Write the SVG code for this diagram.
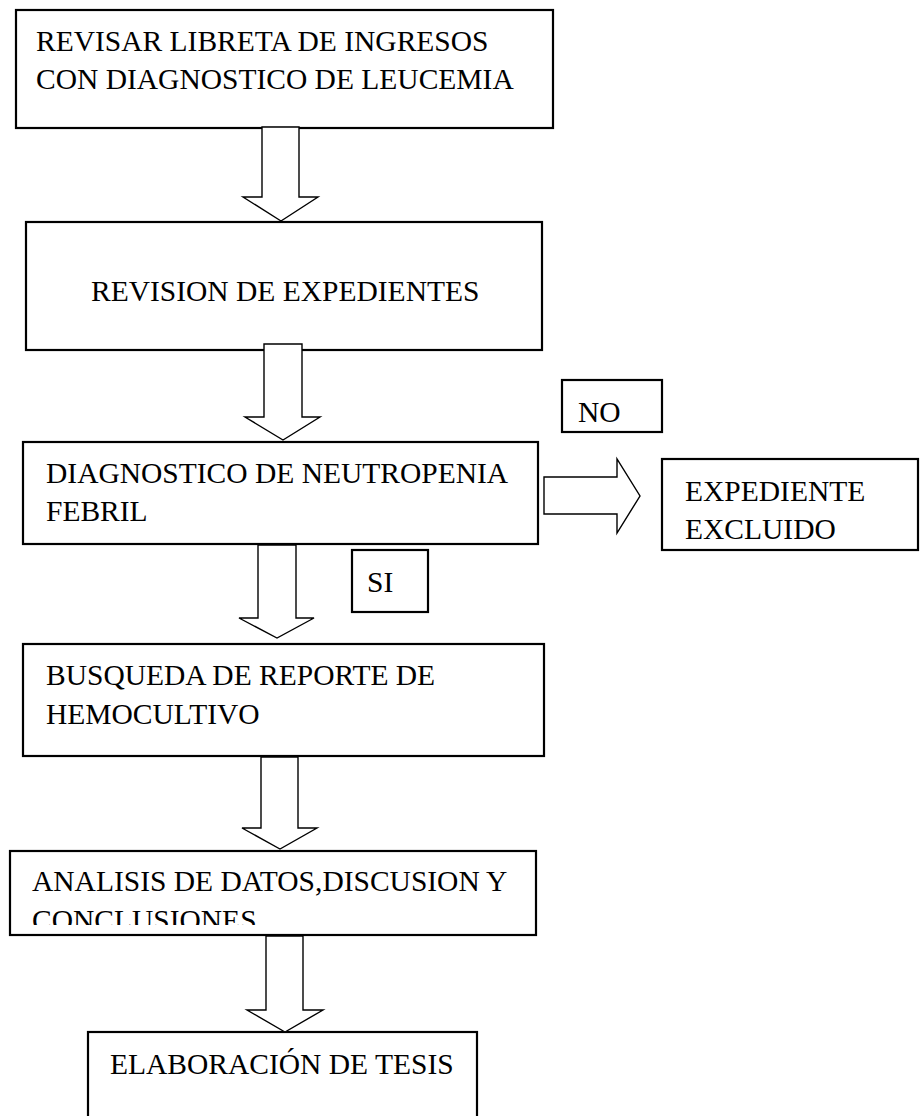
<svg xmlns="http://www.w3.org/2000/svg" width="922" height="1116" viewBox="0 0 922 1116">
<style>
.box{fill:#fff;stroke:#000;stroke-width:2.2}
.arr{fill:#fff;stroke:#000;stroke-width:1.4;stroke-linejoin:miter}
text{font-family:"Liberation Serif","Times New Roman",serif;font-size:29.5px;fill:#000}
</style>
<defs>
<clipPath id="clip5"><rect x="10" y="851" width="526" height="74"/></clipPath>
</defs>
<rect width="922" height="1116" fill="#fff"/>
<g id="n1"><rect class="box" x="16" y="10" width="537" height="118"/>
<text x="36" y="51">REVISAR LIBRETA DE INGRESOS</text>
<text x="36" y="89">CON DIAGNOSTICO DE LEUCEMIA</text></g>
<g id="n2"><rect class="box" x="26" y="222" width="516" height="128"/>
<text x="91" y="301">REVISION DE EXPEDIENTES</text></g>
<g id="n3"><rect class="box" x="23" y="442" width="515" height="102"/>
<text x="46" y="483">DIAGNOSTICO DE NEUTROPENIA</text>
<text x="46" y="521">FEBRIL</text></g>
<g id="no"><rect class="box" x="562" y="380" width="100" height="52"/>
<text x="578" y="422">NO</text></g>
<g id="excl"><rect class="box" x="662" y="459" width="256" height="91"/>
<text x="685" y="501">EXPEDIENTE</text>
<text x="685" y="539">EXCLUIDO</text></g>
<g id="si"><rect class="box" x="352" y="550" width="76" height="62"/>
<text x="367" y="592">SI</text></g>
<g id="n4"><rect class="box" x="23" y="644" width="521" height="112"/>
<text x="46" y="685">BUSQUEDA DE REPORTE DE</text>
<text x="46" y="724">HEMOCULTIVO</text></g>
<g id="n5"><rect class="box" x="10" y="851" width="526" height="84"/>
<g clip-path="url(#clip5)">
<text x="32" y="891">ANALISIS DE DATOS,DISCUSION Y</text>
<text x="32" y="930">CONCLUSIONES</text></g></g>
<g id="n6"><rect class="box" x="88" y="1032" width="389" height="100"/>
<text x="110" y="1074">ELABORACIÓN DE TESIS</text></g>
<g id="connectors">
<path class="arr" d="M262,127 H299 V197 H318 L281,221 L243,197 H262 Z"/>
<path class="arr" d="M264,344 H302 V417 H320 L283,440 L245,417 H264 Z"/>
<path class="arr" d="M258,545 H296 V618 H314 L277,638 L239,618 H258 Z"/>
<path class="arr" d="M261,757 H298 V828 H317 L280,849 L242,828 H261 Z"/>
<path class="arr" d="M266,936 H303 V1010 H323 L285,1032 L247,1010 H266 Z"/>
<path class="arr" d="M544,477 H617 V459 L640,496 L617,533 V514 H544 Z"/>
</g>
</svg>
